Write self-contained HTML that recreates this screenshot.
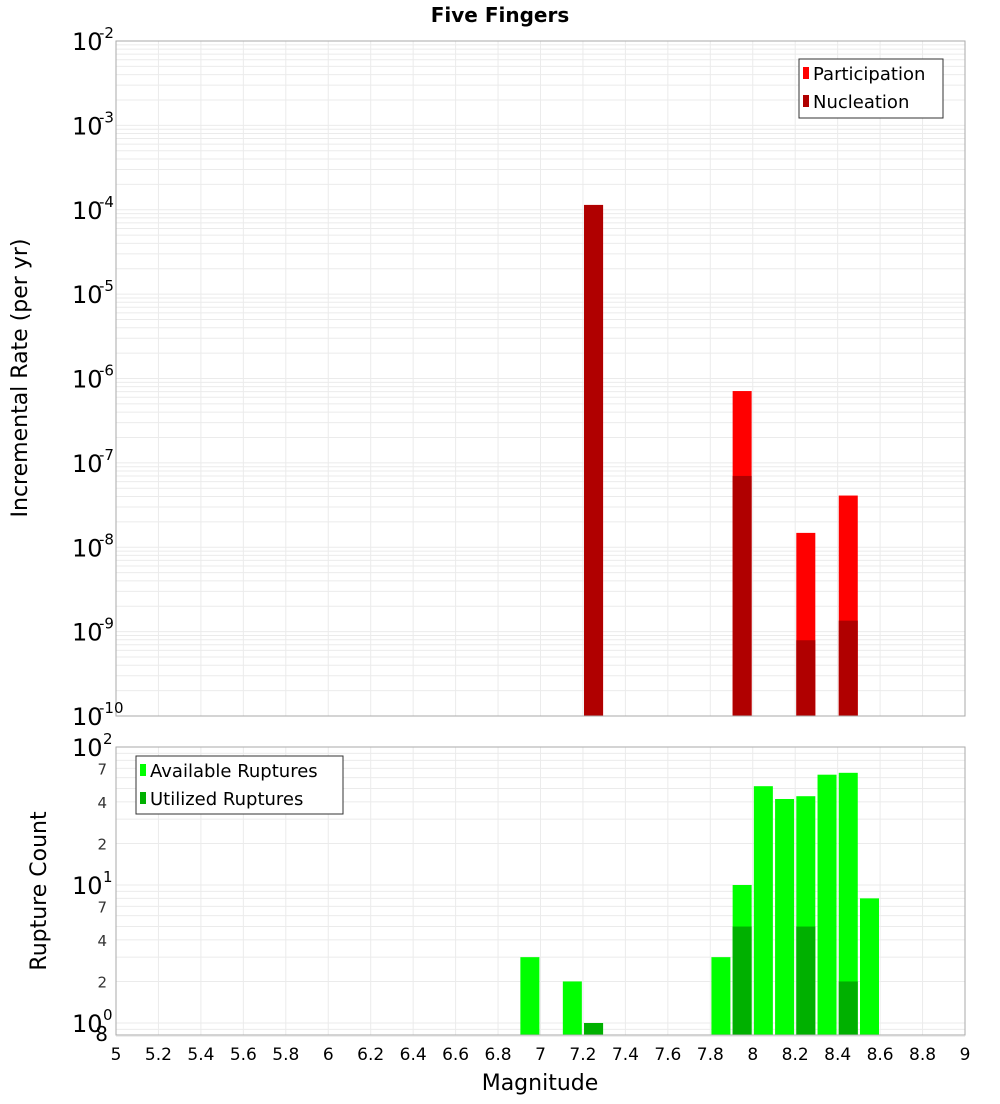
<!DOCTYPE html>
<html><head><meta charset="utf-8"><style>
body{margin:0;background:#fff;font-family:"DejaVu Sans","Liberation Sans",sans-serif}
</style></head><body>
<svg id="c" width="1000" height="1100" xmlns="http://www.w3.org/2000/svg" font-family="DejaVu Sans, Liberation Sans, sans-serif">
<text x="500" y="22" text-anchor="middle" font-size="20" font-weight="bold">Five Fingers</text>
<g id="topg"></g><g id="botg"></g><g id="xax"></g>
<text transform="translate(27,378) rotate(-90)" text-anchor="middle" font-size="22">Incremental Rate (per yr)</text>
<text transform="translate(46,891) rotate(-90)" text-anchor="middle" font-size="22">Rupture Count</text>
<text x="540" y="1090" text-anchor="middle" font-size="22">Magnitude</text>
<g>
<rect x="799" y="59" width="144" height="59" fill="#fff" stroke="#333"/>
<rect x="803" y="67" width="6" height="12" fill="#ff0000"/><text x="813" y="80" font-size="18">Participation</text>
<rect x="803" y="95" width="6" height="12" fill="#b00000"/><text x="813" y="108" font-size="18">Nucleation</text>
</g>
<g>
<rect x="136" y="756" width="207" height="58" fill="#fff" stroke="#333"/>
<rect x="140" y="764" width="6" height="12" fill="#00ff00"/><text x="150" y="777" font-size="18">Available Ruptures</text>
<rect x="140" y="792" width="6" height="12" fill="#00b000"/><text x="150" y="805" font-size="18">Utilized Ruptures</text>
</g>
</svg>
<script>
const mags=[7.25,7.95,8.25,8.45];
const participation=[1.14e-4,7.1e-7,1.48e-8,4.1e-8];
const nucleation=[1.14e-4,7.0e-8,7.9e-10,1.35e-9];
const countMags=[6.95,7.15,7.25,7.85,7.95,8.05,8.15,8.25,8.35,8.45,8.55];
const available=[3,2,1,3,10,52,42,44,63,65,8];
const utilized=[0,0,1,0,5,0,0,5,0,2,0];
const xTicks=[5,5.2,5.4,5.6,5.8,6,6.2,6.4,6.6,6.8,7,7.2,7.4,7.6,7.8,8,8.2,8.4,8.6,8.8,9];
const NS="http://www.w3.org/2000/svg";
const X0=116,X1=965;
const x=m=>X0+(m-5)/4*(X1-X0);
const yT=v=>41+(-2-Math.log10(v))*84.375;
const yB=v=>747+(2-Math.log10(v))*138;
function el(p,t,a){const e=document.createElementNS(NS,t);for(const k in a)e.setAttribute(k,a[k]);p.appendChild(e);return e;}
const gTop=document.getElementById('topg'),gBot=document.getElementById('botg'),xax=document.getElementById('xax');
for(let d=-10;d<-2;d++)for(let k=1;k<10;k++){const yy=yT(k*Math.pow(10,d));
 const l=el(gTop,'line',{x1:X0,x2:X1,y1:yy,y2:yy,stroke:'#ebebeb','stroke-width':1});
 
 }
for(const t of xTicks){for(const [g,y1,y2] of [[gTop,41,716],[gBot,747,1035]]){
 const l=el(g,'line',{x1:x(t),x2:x(t),y1:y1,y2:y2,stroke:'#ebebeb'});
 
 }}
for(const v of [0.8,0.9,1,2,3,4,5,6,7,8,9,10,20,30,40,50,60,70,80,90]){const yy=yB(v);
 const l=el(gBot,'line',{x1:X0,x2:X1,y1:yy,y2:yy,stroke:'#ebebeb'});
 
 }
const bw=19;
mags.forEach((m,i)=>{
 const b=el(gTop,'rect',{x:x(m)-bw/2,y:yT(participation[i]),width:bw,height:716-yT(participation[i]),fill:'#ff0000'});
 
 
 const n=el(gTop,'rect',{x:x(m)-bw/2,y:yT(nucleation[i]),width:bw,height:716-yT(nucleation[i]),fill:'#b00000'});
 
 
});
countMags.forEach((m,i)=>{
 const b=el(gBot,'rect',{x:x(m)-bw/2,y:yB(available[i]),width:bw,height:1035-yB(available[i]),fill:'#00ff00'});
 
 
 if(utilized[i]>0){const u=el(gBot,'rect',{x:x(m)-bw/2,y:yB(utilized[i]),width:bw,height:1035-yB(utilized[i]),fill:'#00b000'});
 
 }
});
el(gTop,'rect',{x:X0,y:41,width:X1-X0,height:675,fill:'none',stroke:'#aaa'});
el(gBot,'rect',{x:X0,y:747,width:X1-X0,height:288,fill:'none',stroke:'#aaa'});
for(let d=-10;d<=-2;d++){const yy=yT(Math.pow(10,d));
 const t=el(gTop,'text',{x:72,y:yy+9,'font-size':24});t.textContent='10';
 
 
 const s=el(gTop,'text',{x:99,y:yy-3,'font-size':15});s.textContent=String(d);}
[[100,'2'],[10,'1'],[1,'0']].forEach(([v,e])=>{const yy=yB(v);
 const t=el(gBot,'text',{x:72,y:yy+9,'font-size':24});t.textContent='10';
 
 
 const s=el(gBot,'text',{x:103,y:yy-3,'font-size':15});s.textContent=e;});
[70,40,20,7,4,2].forEach(v=>{const t=el(gBot,'text',{x:107,y:yB(v)+6,'font-size':15,'text-anchor':'end',fill:'#333'});t.textContent=String(v).replace(/0$/,'');
 
 });
{const t=el(gBot,'text',{x:108,y:1041,'font-size':20,'text-anchor':'end'});t.textContent='8';}
xTicks.forEach(t=>{const tx=el(xax,'text',{x:x(t),y:1060,'font-size':17,'text-anchor':'middle'});tx.textContent=String(t);
 
 });
</script>
</body></html>
